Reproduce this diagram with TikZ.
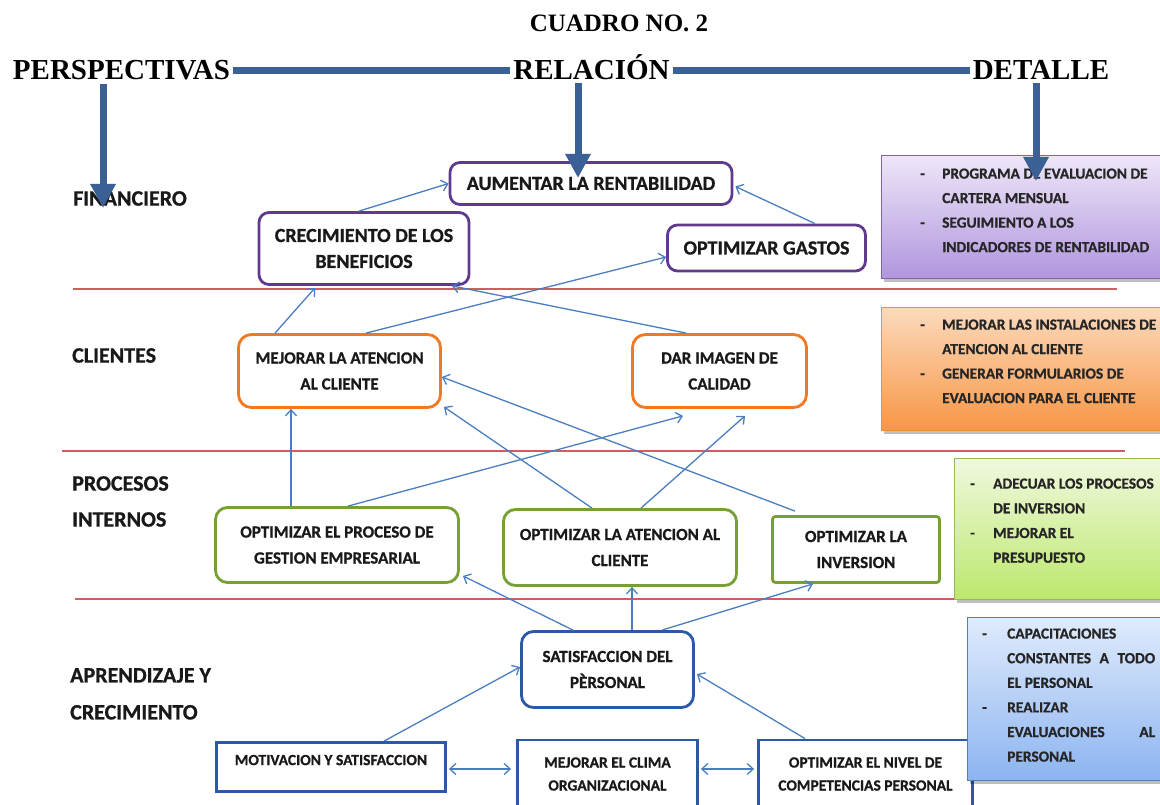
\documentclass[tikz,border=0pt]{standalone}
\usepackage{fontspec}
\setmainfont{Liberation Serif}
\newfontfamily\carl[BoldFeatures={FakeBold=0.8}]{Carlito}
\usetikzlibrary{arrows.meta,calc,shadows}

% colours
\definecolor{heavyC}{RGB}{58,96,150}
\definecolor{linkC}{RGB}{74,126,192}
\definecolor{sepC}{RGB}{205,95,95}
\definecolor{purC}{RGB}{96,58,140}
\definecolor{oraC}{RGB}{242,120,34}
\definecolor{grnC}{RGB}{118,160,52}
\definecolor{bluC}{RGB}{44,88,168}
\definecolor{dPurLine}{RGB}{128,100,162}
\definecolor{dPurTop}{RGB}{238,230,248}
\definecolor{dPurBot}{RGB}{176,150,222}
\definecolor{dOraLine}{RGB}{240,140,60}
\definecolor{dOraTop}{RGB}{252,218,188}
\definecolor{dOraBot}{RGB}{247,150,70}
\definecolor{dGrnLine}{RGB}{150,185,85}
\definecolor{dGrnTop}{RGB}{240,248,222}
\definecolor{dGrnBot}{RGB}{188,232,108}
\definecolor{dBluLine}{RGB}{79,129,189}
\definecolor{dBluTop}{RGB}{224,235,252}
\definecolor{dBluBot}{RGB}{140,180,240}

% list helpers for the detail boxes
\newcommand\dashitem[1]{\makebox[#1][l]{-}}
\newcommand\dashcont[1]{\hspace*{#1}}

\tikzset{
  head/.style={font=\bfseries\fontsize{29}{29}\selectfont, inner sep=3pt, anchor=base},
  sect/.style={font=\carl\bfseries\fontsize{22}{36}\selectfont, align=left,
    anchor=north west, inner sep=0pt, text=black!90},
  box/.style={draw, line width=2.8pt, fill=white, align=center, inner sep=0pt, text=black!90},
  pbox/.style={box, draw=purC, rounded corners=10pt, font=\carl\bfseries\fontsize{20}{26}\selectfont},
  obox/.style={box, draw=oraC, rounded corners=13pt, font=\carl\bfseries\fontsize{17}{26}\selectfont},
  gbox/.style={box, draw=grnC, rounded corners=12pt, font=\carl\bfseries\fontsize{17}{26}\selectfont},
  bbox/.style={box, draw=bluC, font=\carl\bfseries\fontsize{15.5}{23}\selectfont},
  heavy/.style={draw=heavyC, line width=7pt},
  heavyarrow/.style={heavy, -{Triangle[width=24pt,length=24pt]}},
  link/.style={draw=linkC, line width=1.3pt, -{Straight Barb[length=6pt,width=11pt]}},
  dlink/.style={draw=linkC, line width=1.3pt,
    {Straight Barb[length=6pt,width=11pt]}-{Straight Barb[length=6pt,width=11pt]}},
  sepline/.style={draw=sepC, line width=1.3pt},
  detail/.style={rectangle, inner sep=0pt, anchor=north west, line width=0.8pt,
    drop shadow={shadow xshift=3pt, shadow yshift=-4pt, fill=black, opacity=0.25}},
  dtext/.style={font=\carl\bfseries\fontsize{15.4}{24.5}\selectfont, align=left,
    anchor=north west, inner sep=0pt, text=black!85},
}

\begin{document}
\begin{tikzpicture}[x=1pt,y=-1pt]
\useasboundingbox[fill=white] (0,0) rectangle (1160,805);

% title and column headings
\node[head, font=\bfseries\fontsize{25}{25}\selectfont] (cuadro) at (619,32) {CUADRO NO. 2};
\node[head] (persp) at (121.5,80) {PERSPECTIVAS};
\node[head] (rel) at (591.5,80) {RELACIÓN};
\node[head] (det) at (1041,80) {DETALLE};

% separators between the perspectives
\draw[sepline] (73,289) -- (1117,289);
\draw[sepline] (62,451) -- (1125,451);
\draw[sepline] (75,599) -- (1000,599);

% perspective names
\node[sect] (sfin) at (73,191) {FINANCIERO};
\node[sect] (scli) at (72,348) {CLIENTES};
\node[sect] (spro) at (72,476) {PROCESOS\\INTERNOS};
\node[sect, font=\carl\bfseries\fontsize{22}{37}\selectfont] (sapr) at (70,668) {APRENDIZAJE Y\\CRECIMIENTO};

% financial
\node[pbox, minimum width=282, minimum height=42] (aum) at (591,183.5) {AUMENTAR LA RENTABILIDAD};
\node[pbox, minimum width=210, minimum height=72] (crec) at (364,248.5) {CRECIMIENTO DE LOS\\BENEFICIOS};
\node[pbox, minimum width=198, minimum height=46] (gastos) at (766.5,248) {OPTIMIZAR GASTOS};

% customers
\node[obox, minimum width=202, minimum height=73] (mejat) at (339.5,371) {MEJORAR LA ATENCION\\AL CLIENTE};
\node[obox, minimum width=174, minimum height=73] (dar) at (719.5,371) {DAR IMAGEN DE\\CALIDAD};

% internal processes
\node[gbox, minimum width=243, minimum height=75] (oproc) at (337,545) {OPTIMIZAR EL PROCESO DE\\GESTION EMPRESARIAL};
\node[gbox, minimum width=233, minimum height=76] (oat) at (620,547.5) {OPTIMIZAR LA ATENCION AL\\CLIENTE};
\node[gbox, rounded corners=3pt, minimum width=167, minimum height=66] (oinv) at (856,549.5) {OPTIMIZAR LA\\INVERSION};

% learning and growth
\node[bbox, rounded corners=12pt, font=\carl\bfseries\fontsize{17}{26}\selectfont,
      minimum width=172, minimum height=76] (satis) at (607.5,669.5) {SATISFACCION DEL\\PÈRSONAL};
\node[bbox, minimum width=229, minimum height=49, text depth=14pt] (motiv) at (331,767) {MOTIVACION Y SATISFACCION};
\node[bbox, minimum width=180, minimum height=68] (clima) at (607.5,774) {MEJORAR EL CLIMA\\ORGANIZACIONAL};
\node[bbox, minimum width=214, minimum height=68] (nivel) at (865.5,774) {OPTIMIZAR EL NIVEL DE\\COMPETENCIAS PERSONAL};

% cause-effect links
\draw[link] ($(crec.north)+(-5,0)$) -- (aum.west);
\draw[link] ($(gastos.north)+(48.5,0)$) -- ($(aum.east)+(2,3)$);
\draw[link] ($(mejat.north)+(-64.5,0)$) -- ($(crec.south)+(-49,2)$);
\draw[link] ($(mejat.north)+(26.5,0)$) -- ($(gastos.west)+(0,9)$);
\draw[link] ($(dar.north)+(-33.5,0)$) -- ($(crec.south)+(88,0)$);
\draw[link] ($(oproc.north)+(-46,0)$) -- ($(mejat.south)+(-48.5,0)$);
\draw[link] ($(oproc.north)+(11,0)$) -- ($(dar.south)+(-36.5,7)$);
\draw[link] ($(oat.north)+(21,0)$) -- ($(dar.south)+(25.5,7)$);
\draw[link] ($(oat.north)+(-28,0)$) -- ($(mejat.south east)+(2,-2)$);
\draw[link] ($(oinv.north)+(-61,-4)$) -- ($(mejat.east)+(0,6)$);
\draw[link] ($(satis.north)+(-34.5,0)$) -- ($(oproc.south east)+(3,-8)$);
\draw[link] ($(satis.north)+(24.5,0)$) -- ($(oat.south)+(12,0)$);
\draw[link] ($(satis.north)+(54.5,0)$) -- ($(oinv.south)+(-43,0)$);
\draw[link] ($(motiv.north)+(53,0)$) -- ($(satis.west)+(0,-2.5)$);
\draw[link] ($(nivel.north)+(-60.5,0)$) -- ($(satis.east)+(2,4.5)$);
\draw[dlink] ($(motiv.east)+(2,2)$) -- ($(clima.west)+(-5,-5)$);
\draw[dlink] ($(clima.east)+(2,-5)$) -- ($(nivel.west)+(-3,-5)$);

% detail boxes
\node[detail, draw=dPurLine, top color=dPurTop, bottom color=dPurBot,
      minimum width=300, minimum height=123] (dfin) at (881,155) {};
\node[dtext] (dfinT) at (920,168.3) {\dashitem{22pt}PROGRAMA DE EVALUACION DE\\
  \dashcont{22pt}CARTERA MENSUAL\\
  \dashitem{22pt}SEGUIMIENTO A LOS\\
  \dashcont{22pt}INDICADORES DE RENTABILIDAD};

\node[detail, draw=dOraLine, top color=dOraTop, bottom color=dOraBot,
      minimum width=300, minimum height=123] (dcli) at (881,307) {};
\node[dtext] (dcliT) at (920,319.3) {\dashitem{22pt}MEJORAR LAS INSTALACIONES DE\\
  \dashcont{22pt}ATENCION AL CLIENTE\\
  \dashitem{22pt}GENERAR FORMULARIOS DE\\
  \dashcont{22pt}EVALUACION PARA EL CLIENTE};

\node[detail, draw=dGrnLine, top color=dGrnTop, bottom color=dGrnBot,
      minimum width=230, minimum height=141] (dpro) at (954,458) {};
\node[dtext, font=\carl\bfseries\fontsize{15.4}{24.7}\selectfont] (dproT) at (970,478.3) {\dashitem{23pt}ADECUAR LOS PROCESOS\\
  \dashcont{23pt}DE INVERSION\\
  \dashitem{23pt}MEJORAR EL\\
  \dashcont{23pt}PRESUPUESTO};

\node[detail, draw=dBluLine, top color=dBluTop, bottom color=dBluBot,
      minimum width=220, minimum height=163] (dapr) at (967,617) {};
\node[dtext, font=\carl\bfseries\fontsize{15.4}{24.6}\selectfont] (daprT) at (982,628.3) {\dashitem{25pt}CAPACITACIONES\\
  \dashcont{25pt}\makebox[148pt][s]{CONSTANTES A TODO}\\
  \dashcont{25pt}EL PERSONAL\\
  \dashitem{25pt}REALIZAR\\
  \dashcont{25pt}\makebox[148pt][s]{EVALUACIONES AL}\\
  \dashcont{25pt}PERSONAL};

% heading bars and pointers
\coordinate (ptip) at (103,208);
\coordinate (rtip) at (578,178);
\coordinate (dtip) at (1036,181);
\draw[heavy] (persp.east) -- (persp.east -| rel.west);
\draw[heavy] (persp.east -| rel.east) -- (persp.east -| det.west);
\draw[heavyarrow] (persp.south -| ptip) -- (ptip);
\draw[heavyarrow] (rel.south -| rtip) -- (rtip);
\draw[heavyarrow] (det.south -| dtip) -- (dtip);
\end{tikzpicture}
\end{document}
